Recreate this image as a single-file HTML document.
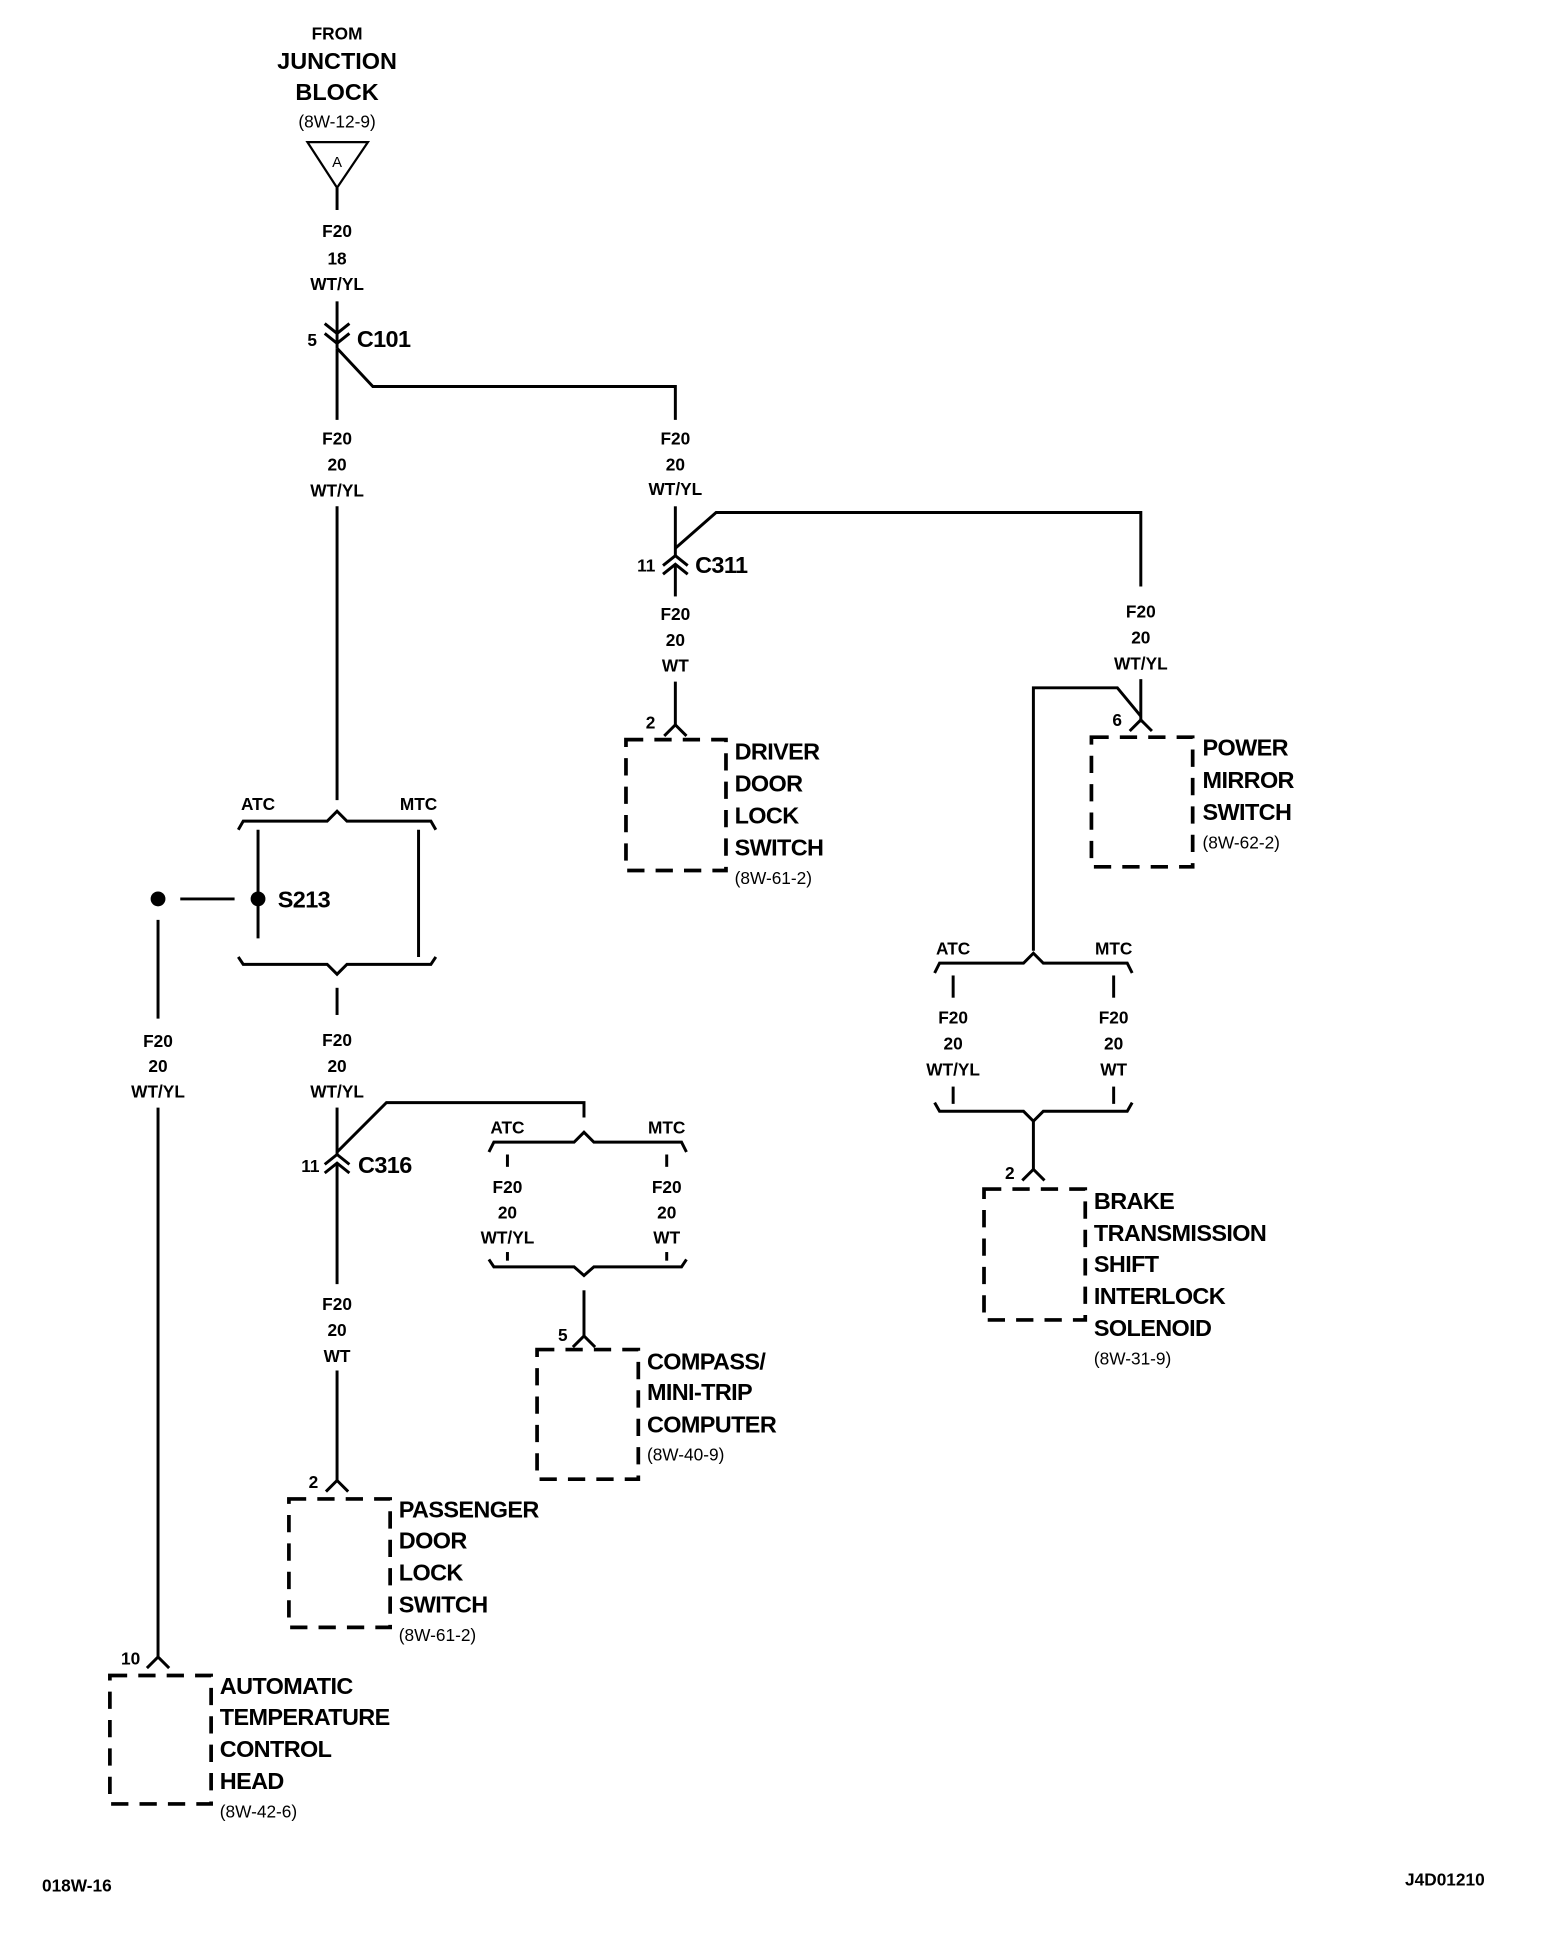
<!DOCTYPE html>
<html><head><meta charset="utf-8"><style>
html,body{margin:0;padding:0;background:#fff;}
svg{display:block;}
text{font-family:"Liberation Sans",Arial,sans-serif;font-weight:bold;fill:#000;}
.w{font-size:14px;text-anchor:middle;}
.c{font-size:19px;letter-spacing:-0.5px;}
.r{font-size:14px;font-weight:normal;}
</style></head><body>
<svg width="1568" height="1946" viewBox="0 0 1270 1576" xmlns="http://www.w3.org/2000/svg">
<g fill="none" stroke="#000" stroke-width="2.4">
<!-- top -->
<polygon points="249,115 298,115 273,152" stroke-width="1.8"/>
<line x1="273" y1="152" x2="273" y2="170"/>
<line x1="273" y1="244" x2="273" y2="282"/>
<polyline points="263,262 273,270 283,262"/>
<polyline points="263,270 273,278 283,270"/>
<polyline points="273,282 302,313 547,313 547,340"/>
<line x1="273" y1="282" x2="273" y2="340"/>
<line x1="273" y1="410" x2="273" y2="648"/>
<!-- S213 bracket -->
<polyline points="193,672 197,665 265,665 273,657 281,665 349,665 353,672"/>
<line x1="209" y1="672" x2="209" y2="760"/>
<line x1="339" y1="672" x2="339" y2="775"/>
<polyline points="193,775 197,781 265,781 273,789 281,781 349,781 353,775"/>
<line x1="146" y1="728" x2="190" y2="728"/>
<line x1="273" y1="800" x2="273" y2="822"/>
<!-- left ATC head -->
<line x1="128" y1="745" x2="128" y2="825"/>
<line x1="128" y1="897" x2="128" y2="1342"/>
<polyline points="119,1351 128,1342 137,1351"/>
<rect x="89" y="1357" width="82" height="104" stroke-dasharray="14,9" stroke-width="3"/>
<!-- C316 -->
<line x1="273" y1="897" x2="273" y2="935"/>
<polyline points="263,943 273,935 283,943"/>
<polyline points="263,950 273,942 283,950"/>
<polyline points="273,933 313,893 473,893 473,905"/>
<line x1="273" y1="942" x2="273" y2="1040"/>
<line x1="273" y1="1110" x2="273" y2="1200"/>
<polyline points="264,1208 273,1199 282,1208"/>
<rect x="234" y="1214" width="82" height="104" stroke-dasharray="14,9" stroke-width="3"/>
<!-- compass bracket -->
<polyline points="396,933 400,925 465,925 473,917 481,925 552,925 556,933"/>
<line x1="411" y1="935" x2="411" y2="945"/>
<line x1="540" y1="935" x2="540" y2="945"/>
<line x1="411" y1="1014" x2="411" y2="1021"/>
<line x1="540" y1="1014" x2="540" y2="1021"/>
<polyline points="396,1020 400,1026 465,1026 473,1033 481,1026 552,1026 556,1020"/>
<line x1="473" y1="1045" x2="473" y2="1083"/>
<polyline points="464,1091 473,1082 482,1091"/>
<rect x="435" y="1093" width="82" height="105" stroke-dasharray="14,9" stroke-width="3"/>
<!-- C311 -->
<line x1="547" y1="410" x2="547" y2="450"/>
<polyline points="537,458 547,450 557,458"/>
<polyline points="537,465 547,457 557,465"/>
<polyline points="547,444 580,415 924,415 924,475"/>
<line x1="547" y1="457" x2="547" y2="483"/>
<line x1="547" y1="552" x2="547" y2="588"/>
<polyline points="538,596 547,587 556,596"/>
<rect x="507" y="599" width="81" height="106" stroke-dasharray="14,9" stroke-width="3"/>
<!-- power mirror -->
<line x1="924" y1="550" x2="924" y2="585"/>
<polyline points="915,592 924,583 933,592"/>
<polyline points="837,770 837,557 905,557 924,580"/>
<rect x="884" y="597" width="82" height="105" stroke-dasharray="14,9" stroke-width="3"/>
<!-- brake bracket -->
<polyline points="757,788 761,780 829,780 837,772 845,780 913,780 917,788"/>
<line x1="772" y1="790" x2="772" y2="808"/>
<line x1="902" y1="790" x2="902" y2="808"/>
<line x1="772" y1="880" x2="772" y2="894"/>
<line x1="902" y1="880" x2="902" y2="894"/>
<polyline points="757,893 761,900 829,900 837,908 845,900 913,900 917,893"/>
<line x1="837" y1="908" x2="837" y2="948"/>
<polyline points="828,956 837,947 846,956"/>
<rect x="797" y="963" width="82" height="106" stroke-dasharray="14,9" stroke-width="3"/>
</g>
<circle cx="128" cy="728" r="6"/>
<circle cx="209" cy="728" r="6"/>

<text class="w" x="273" y="32">FROM</text>
<text class="w" x="273" y="56" style="font-size:19px">JUNCTION</text>
<text class="w" x="273" y="81" style="font-size:19px">BLOCK</text>
<text class="w" x="273" y="103" style="font-weight:normal;font-size:14px">(8W-12-9)</text>
<text class="w" x="273" y="135" style="font-size:12px;font-weight:normal">A</text>
<text class="w" x="273" y="192">F20</text><text class="w" x="273" y="214">18</text><text class="w" x="273" y="235">WT/YL</text>
<text x="249" y="280" style="font-size:14px">5</text>
<text class="c" x="289" y="281">C101</text>
<text class="w" x="273" y="360">F20</text><text class="w" x="273" y="381">20</text><text class="w" x="273" y="402">WT/YL</text>
<text class="w" x="547" y="360">F20</text><text class="w" x="547" y="381">20</text><text class="w" x="547" y="401">WT/YL</text>
<text x="516" y="463" style="font-size:14px">11</text>
<text class="c" x="563" y="464">C311</text>
<text class="w" x="547" y="502">F20</text><text class="w" x="547" y="523">20</text><text class="w" x="547" y="544">WT</text>
<text x="523" y="590" style="font-size:14px">2</text>
<text class="c" x="595" y="615">DRIVER</text><text class="c" x="595" y="641">DOOR</text><text class="c" x="595" y="667">LOCK</text><text class="c" x="595" y="693">SWITCH</text><text class="r" x="595" y="716">(8W-61-2)</text>
<text class="w" x="924" y="500">F20</text><text class="w" x="924" y="521">20</text><text class="w" x="924" y="542">WT/YL</text>
<text x="901" y="588" style="font-size:14px">6</text>
<text class="c" x="974" y="612">POWER</text><text class="c" x="974" y="638">MIRROR</text><text class="c" x="974" y="664">SWITCH</text><text class="r" x="974" y="687">(8W-62-2)</text>
<text class="w" x="209" y="656">ATC</text><text class="w" x="339" y="656">MTC</text>
<text class="c" x="225" y="735">S213</text>
<text class="w" x="128" y="848">F20</text><text class="w" x="128" y="868">20</text><text class="w" x="128" y="889">WT/YL</text>
<text class="w" x="273" y="847">F20</text><text class="w" x="273" y="868">20</text><text class="w" x="273" y="889">WT/YL</text>
<text x="244" y="949" style="font-size:14px">11</text>
<text class="c" x="290" y="950">C316</text>
<text class="w" x="411" y="918">ATC</text><text class="w" x="540" y="918">MTC</text>
<text class="w" x="411" y="966">F20</text><text class="w" x="411" y="987">20</text><text class="w" x="411" y="1007">WT/YL</text>
<text class="w" x="540" y="966">F20</text><text class="w" x="540" y="987">20</text><text class="w" x="540" y="1007">WT</text>
<text x="452" y="1086" style="font-size:14px">5</text>
<text class="c" x="524" y="1109">COMPASS/</text><text class="c" x="524" y="1134">MINI-TRIP</text><text class="c" x="524" y="1160">COMPUTER</text><text class="r" x="524" y="1183">(8W-40-9)</text>
<text class="w" x="273" y="1061">F20</text><text class="w" x="273" y="1082">20</text><text class="w" x="273" y="1103">WT</text>
<text x="250" y="1205" style="font-size:14px">2</text>
<text class="c" x="323" y="1229">PASSENGER</text><text class="c" x="323" y="1254">DOOR</text><text class="c" x="323" y="1280">LOCK</text><text class="c" x="323" y="1306">SWITCH</text><text class="r" x="323" y="1329">(8W-61-2)</text>
<text x="98" y="1348" style="font-size:14px">10</text>
<text class="c" x="178" y="1372">AUTOMATIC</text><text class="c" x="178" y="1397">TEMPERATURE</text><text class="c" x="178" y="1423">CONTROL</text><text class="c" x="178" y="1449">HEAD</text><text class="r" x="178" y="1472">(8W-42-6)</text>
<text class="w" x="772" y="773">ATC</text><text class="w" x="902" y="773">MTC</text>
<text class="w" x="772" y="829">F20</text><text class="w" x="772" y="850">20</text><text class="w" x="772" y="871">WT/YL</text>
<text class="w" x="902" y="829">F20</text><text class="w" x="902" y="850">20</text><text class="w" x="902" y="871">WT</text>
<text x="814" y="955" style="font-size:14px">2</text>
<text class="c" x="886" y="979">BRAKE</text><text class="c" x="886" y="1005">TRANSMISSION</text><text class="c" x="886" y="1030">SHIFT</text><text class="c" x="886" y="1056">INTERLOCK</text><text class="c" x="886" y="1082">SOLENOID</text><text class="r" x="886" y="1105">(8W-31-9)</text>
<text x="34" y="1532" style="font-size:14px">018W-16</text>
<text x="1138" y="1527" style="font-size:14px">J4D01210</text>
</svg>
</body></html>
